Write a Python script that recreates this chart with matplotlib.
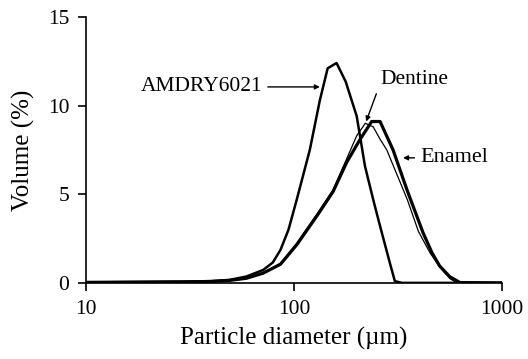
# particle size distributions (volume %) of the three powders

import matplotlib
matplotlib.use("Agg")
import matplotlib.pyplot as plt

plt.rcParams['font.family'] = ['Liberation Serif', 'DejaVu Serif']

# AMDRY6021
amdryD = [10, 20, 30, 40, 49, 59, 71, 79, 86, 94, 103, 119, 133, 145, 160, 177, 200, 219, 240, 259, 289, 305, 330, 1000]
amdryV = [0.03, 0.05, 0.07, 0.1, 0.17, 0.36, 0.73, 1.15, 1.86, 3.0, 4.7, 7.5, 10.3, 12.1, 12.4, 11.35, 9.4, 6.6, 4.7, 3.2, 1.1, 0.1, 0, 0]

# Dentine (thin line)
dentD = [10, 20, 30, 40, 49, 59, 71, 86, 103, 130, 154, 179, 200, 220, 240, 259, 279, 300, 350, 396, 450, 501, 560, 600, 1000]
dentV = [0.03, 0.05, 0.06, 0.08, 0.14, 0.26, 0.55, 1.1, 2.24, 3.95, 5.25, 7.0, 8.3, 9.0, 8.8, 8.1, 7.5, 6.6, 4.7, 2.9, 1.7, 0.9, 0.25, 0.03, 0]

# Enamel (thick line)
enamD = [10, 20, 30, 40, 49, 59, 71, 86, 103, 130, 154, 179, 207, 236, 259, 299, 350, 417, 460, 501, 560, 627, 1000]
enamV = [0.03, 0.05, 0.06, 0.08, 0.14, 0.26, 0.55, 1.05, 2.15, 3.85, 5.15, 6.8, 8.07, 9.1, 9.1, 7.5, 5.2, 2.82, 1.7, 0.95, 0.35, 0.02, 0]

fig = plt.figure(figsize=(5.28, 3.59), dpi=100)
ax = fig.add_axes([0.163, 0.212, 0.788, 0.741])

ax.plot(amdryD, amdryV, color='black', lw=1.8)
ax.plot(dentD, dentV, color='black', lw=0.9)
ax.plot(enamD, enamV, color='black', lw=2.3)

ax.set_xscale('log')
ax.set_xlim(10, 1000)
ax.set_ylim(0, 15)
ax.set_yticks([0, 5, 10, 15])
ax.set_xticks([10, 100, 1000])
ax.set_xticklabels(['10', '100', '1000'])
ax.minorticks_off()

for s in ['top', 'right']:
    ax.spines[s].set_visible(False)
for s in ['left', 'bottom']:
    ax.spines[s].set_linewidth(1.2)

ax.tick_params(direction='out', length=6, width=1.2, labelsize=15.5, pad=6)

ax.set_xlabel('Particle diameter (\u00b5m)', fontsize=18, labelpad=6)
ax.set_ylabel('Volume (%)', fontsize=18, labelpad=9)

arrow = dict(arrowstyle='-|>', color='black', lw=1, mutation_scale=7, shrinkA=2, shrinkB=0)

ax.annotate('AMDRY6021', xy=(133, 11.05), xytext=(70.3, 11.05), ha='right', va='center',
            fontsize=15.5, arrowprops=dict(arrow, relpos=(1, 0.5)))
ax.annotate('Dentine', xy=(222, 9.1), xytext=(259, 11.45), ha='left', va='center',
            fontsize=15.5, arrowprops=dict(arrow, relpos=(0, 0.3)))
ax.annotate('Enamel', xy=(334, 7.05), xytext=(403, 7.05), ha='left', va='center',
            fontsize=16, arrowprops=dict(arrow, relpos=(0, 0.5)))

fig.savefig('out.png', dpi=100)
